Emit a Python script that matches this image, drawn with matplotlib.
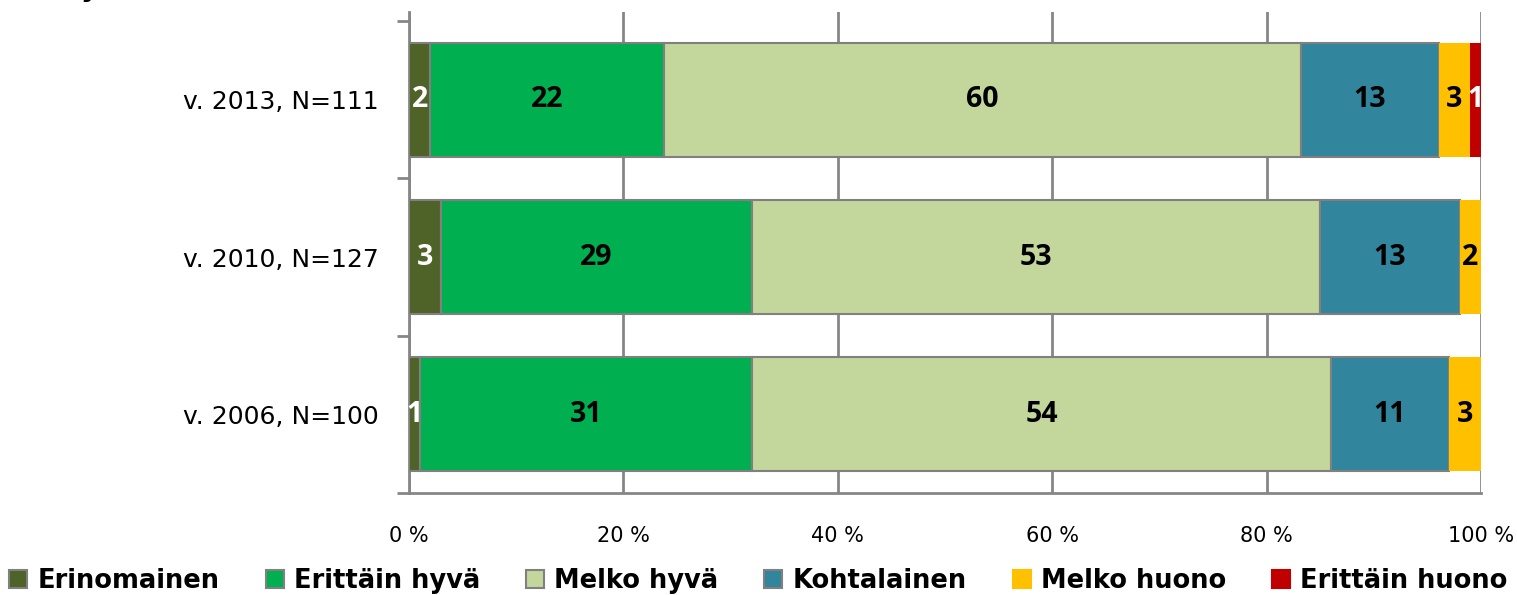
import numpy as np
import matplotlib.pyplot as plt
from matplotlib.patches import Patch

plt.rcParams['font.family'] = ['DejaVu Sans']

# survey rounds, bottom to top
years = ['v. 2006, N=100', 'v. 2010, N=127', 'v. 2013, N=111']
categories = ['Erinomainen', 'Erittäin hyvä', 'Melko hyvä', 'Kohtalainen', 'Melko huono', 'Erittäin huono']
values = np.array([
    [1, 31, 54, 11, 3, 0],
    [3, 29, 53, 13, 2, 0],
    [2, 22, 60, 13, 3, 1],
], dtype=float)
xticks = [0, 20, 40, 60, 80, 100]

colors = ['#4F6228', '#00B050', '#C3D69B', '#31859C', '#FFC000', '#C00000']
edges = ['#808080', '#808080', '#808080', '#808080', 'none', 'none']
text_colors = ['white', 'black', 'black', 'black', 'black', 'white']

# 100 % stacked: scale each row to its total
shares = values / values.sum(axis=1, keepdims=True) * 100

fig = plt.figure(figsize=(15.17, 5.95), dpi=100)
ax = fig.add_axes([0.2696, 0.1714, 0.7067, 0.8084])

y = np.arange(len(years))
left = np.zeros(len(years))
for j, cat in enumerate(categories):
    ax.barh(y, shares[:, j], left=left, height=0.726, color=colors[j],
            edgecolor=edges[j], linewidth=1.5, zorder=3)
    for i in range(len(years)):
        if values[i, j] > 0:
            ax.text(left[i] + shares[i, j] / 2, y[i], '%d' % values[i, j],
                    ha='center', va='center', fontsize=20.5, fontweight='bold',
                    family=['Open Sans', 'DejaVu Sans'],
                    color=text_colors[j], zorder=4)
    left += shares[:, j]

ax.set_xlim(0, 100)
ax.set_ylim(-0.5, 2.557)
ax.set_xticks(xticks)
ax.set_xticklabels(['%d %%' % v for v in xticks], fontsize=15)
ax.tick_params(axis='x', length=0, pad=24)
ax.set_yticks(y)
ax.set_yticklabels(years, fontsize=18)
ax.tick_params(axis='y', which='major', length=0, pad=22)
ax.set_yticks([-0.5, 0.5, 1.5, 2.5], minor=True)
ax.tick_params(axis='y', which='minor', length=9, width=2, color='#868686')

ax.grid(axis='x', color='#868686', linewidth=2, zorder=0)
for s in ['top', 'right']:
    ax.spines[s].set_visible(False)
for s in ['left', 'bottom']:
    ax.spines[s].set_color('#868686')
    ax.spines[s].set_linewidth(2)

# heading above the chart, only its lower edge falls inside the figure
fig.text(0.053, 1.007, 'y', fontsize=20, fontweight='bold', va='baseline')

handles = [Patch(facecolor=c, edgecolor=e if e != 'none' else c, linewidth=1.5)
           for c, e in zip(colors, edges)]
fig.legend(handles, categories, loc='center', bbox_to_anchor=(0.5, 0.0235),
           ncol=6, frameon=False, prop={'size': 18.5, 'weight': 'bold'},
           handlelength=0.7, handleheight=0.7, handletextpad=0.39,
           columnspacing=1.8, borderpad=0, borderaxespad=0)

fig.savefig('out.png', dpi=100)
